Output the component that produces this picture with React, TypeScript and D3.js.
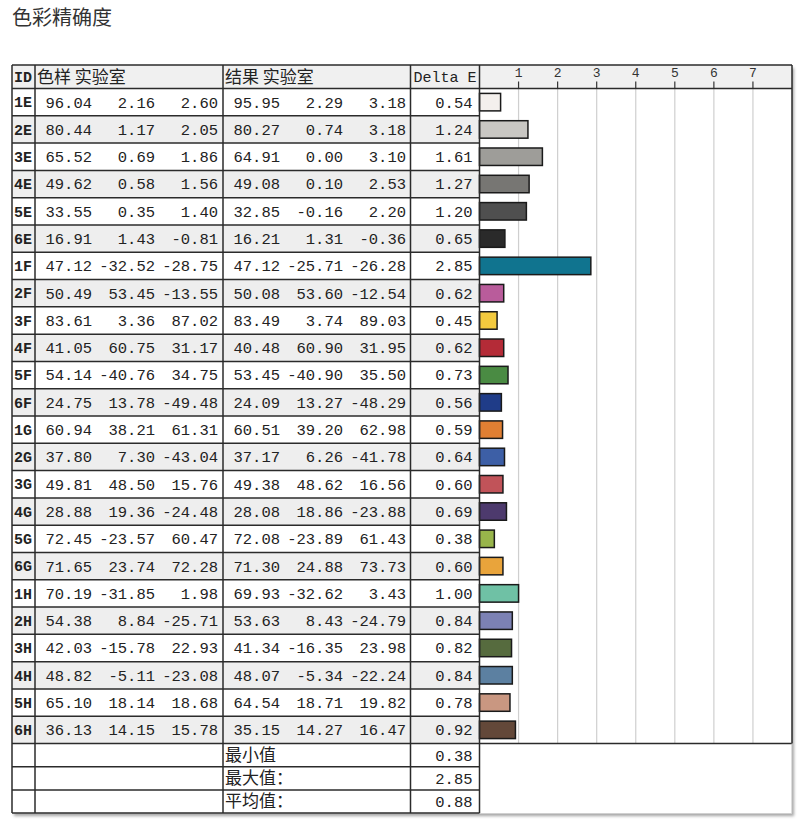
import React from 'react';
import * as d3 from 'd3';

const ids = ['1E', '2E', '3E', '4E', '5E', '6E', '1F', '2F', '3F', '4F', '5F', '6F', '1G', '2G', '3G', '4G', '5G', '6G', '1H', '2H', '3H', '4H', '5H', '6H'];
const sampleL = [96.04, 80.44, 65.52, 49.62, 33.55, 16.91, 47.12, 50.49, 83.61, 41.05, 54.14, 24.75, 60.94, 37.80, 49.81, 28.88, 72.45, 71.65, 70.19, 54.38, 42.03, 48.82, 65.10, 36.13];
const sampleA = [2.16, 1.17, 0.69, 0.58, 0.35, 1.43, -32.52, 53.45, 3.36, 60.75, -40.76, 13.78, 38.21, 7.30, 48.50, 19.36, -23.57, 23.74, -31.85, 8.84, -15.78, -5.11, 18.14, 14.15];
const sampleB = [2.60, 2.05, 1.86, 1.56, 1.40, -0.81, -28.75, -13.55, 87.02, 31.17, 34.75, -49.48, 61.31, -43.04, 15.76, -24.48, 60.47, 72.28, 1.98, -25.71, 22.93, -23.08, 18.68, 15.78];
const resultL = [95.95, 80.27, 64.91, 49.08, 32.85, 16.21, 47.12, 50.08, 83.49, 40.48, 53.45, 24.09, 60.51, 37.17, 49.38, 28.08, 72.08, 71.30, 69.93, 53.63, 41.34, 48.07, 64.54, 35.15];
const resultA = [2.29, 0.74, 0.00, 0.10, -0.16, 1.31, -25.71, 53.60, 3.74, 60.90, -40.90, 13.27, 39.20, 6.26, 48.62, 18.86, -23.89, 24.88, -32.62, 8.43, -16.35, -5.34, 18.71, 14.27];
const resultB = [3.18, 3.18, 3.10, 2.53, 2.20, -0.36, -26.28, -12.54, 89.03, 31.95, 35.50, -48.29, 62.98, -41.78, 16.56, -23.88, 61.43, 73.73, 3.43, -24.79, 23.98, -22.24, 19.82, 16.47];
const deltaE = [0.54, 1.24, 1.61, 1.27, 1.20, 0.65, 2.85, 0.62, 0.45, 0.62, 0.73, 0.56, 0.59, 0.64, 0.60, 0.69, 0.38, 0.60, 1.00, 0.84, 0.82, 0.84, 0.78, 0.92];
const barColors = ['#f4f0ed', '#c9c7c3', '#9e9d99', '#777673', '#4f4f4f', '#2a2a2a', '#10748f', '#b95c9b', '#f3ca3e', '#b42b37', '#4a8b43', '#1f3c88', '#e07f33', '#3d5fa6', '#c15359', '#4d3a6d', '#98b54b', '#e9a43b', '#6fc1a5', '#7c81b4', '#566b3e', '#5c80a1', '#c99781', '#634839'];
const axisTicks = [1, 2, 3, 4, 5, 6, 7];
const summaryLabels = ['最小值', '最大值：', '平均值：'];
const summaryValues = [0.38, 2.85, 0.88];

const title = '色彩精确度';
const headers = ['ID', '色样 实验室', '结果 实验室', 'Delta E'];

const monoFont = '"Liberation Mono", "DejaVu Sans Mono", monospace';
const cjkFont = '"Noto Sans CJK SC", "Noto Sans", sans-serif';

export default function App() {
    const width = 800;
    const height = 822;

    // column edges
    const left = 12;
    const colId = 35;
    const colSample = 223;
    const colResult = 410.5;
    const colDelta = 479.5;
    const right = 792;

    const headerTop = 65;
    const headerBottom = 88.5;
    const rowsBottom = 743.5;
    const summaryRow = 23.2;
    const bottom = rowsBottom + summaryRow * summaryLabels.length;

    const y = d3.scaleBand()
        .domain(ids)
        .range([headerBottom, rowsBottom]);
    const barY = d3.scaleBand()
        .domain(ids)
        .range([headerBottom, rowsBottom])
        .paddingInner(0.36)
        .paddingOuter(0.18);
    const x = d3.scaleLinear()
        .domain([0, 8])
        .range([colDelta, right]);
    const sy = d3.scaleBand()
        .domain(summaryLabels)
        .range([rowsBottom, bottom]);

    const valueOffsets = [57, 120, 183];
    const fmt = (v: number) => v.toFixed(2);

    const sampleCols = [sampleL, sampleA, sampleB];
    const resultCols = [resultL, resultA, resultB];
    const lineColor = '#2b2b2b';

    return (
        <svg width={width} height={height} viewBox={`0 0 ${width} ${height}`}
            style={{ position: 'absolute', left: 0, top: 0, display: 'block', background: '#fff' }}>
            <defs>
                <filter id="shadow" x="-5%" y="-5%" width="110%" height="110%">
                    <feDropShadow dx="2" dy="3" stdDeviation="1.8" floodColor="#000" floodOpacity="0.35" />
                </filter>
            </defs>

            <text x={left} y={25} fontFamily={cjkFont} fontSize={20} fill="#333">{title}</text>

            {/* background + shadow */}
            <rect x={left} y={headerTop} width={right - left} height={bottom - headerTop} fill="#fff" filter="url(#shadow)" />

            {/* header background */}
            <rect x={left} y={headerTop} width={right - left} height={headerBottom - headerTop} fill="#f0f0f0" />

            {/* alternate rows */}
            {ids.map((id, i) => i % 2 === 1 ? (
                <rect key={'bg' + id} x={left} y={y(id)} width={colDelta - left} height={y.bandwidth()} fill="#eeeeee" />
            ) : null)}

            {/* grid lines */}
            {axisTicks.map(t => (
                <g key={'t' + t}>
                    <line x1={x(t)} x2={x(t)} y1={headerBottom} y2={rowsBottom} stroke="#cfcfcf" strokeWidth={1.2} />
                    <line x1={x(t)} x2={x(t)} y1={headerBottom - 7} y2={headerBottom} stroke="#333" strokeWidth={1.2} />
                    <text x={x(t)} y={77} textAnchor="middle" fontFamily={monoFont} fontSize={13} fill="#333">{t}</text>
                </g>
            ))}

            {/* bars */}
            {ids.map((id, i) => (
                <rect key={'bar' + id} x={x(0)} y={barY(id)} width={x(deltaE[i]) - x(0)} height={barY.bandwidth()}
                    fill={barColors[i]} stroke="#1a1a1a" strokeWidth={1.5} />
            ))}

            {/* horizontal row lines */}
            {ids.map(id => (
                <line key={'hl' + id} x1={left} x2={colDelta} y1={y(id)} y2={y(id)} stroke={lineColor} strokeWidth={1.5} />
            ))}
            <line x1={left} x2={right} y1={headerTop} y2={headerTop} stroke={lineColor} strokeWidth={1.5} />
            <line x1={colDelta} x2={right} y1={headerBottom} y2={headerBottom} stroke={lineColor} strokeWidth={1.5} />
            <line x1={left} x2={right} y1={rowsBottom} y2={rowsBottom} stroke={lineColor} strokeWidth={1.5} />
            {summaryLabels.map(s => (
                <line key={'sl' + s} x1={left} x2={colDelta} y1={(sy(s) ?? 0) + sy.bandwidth()} y2={(sy(s) ?? 0) + sy.bandwidth()} stroke={lineColor} strokeWidth={1.5} />
            ))}

            {/* vertical column lines */}
            {[left, colId, colSample, colResult, colDelta].map(cx => (
                <line key={'vl' + cx} x1={cx} x2={cx} y1={headerTop} y2={bottom} stroke={lineColor} strokeWidth={1.5} />
            ))}
            <line x1={right} x2={right} y1={headerTop} y2={rowsBottom} stroke={lineColor} strokeWidth={1.5} />
            <line x1={right} x2={right} y1={rowsBottom} y2={bottom} stroke="#bbb" strokeWidth={1} />

            {/* header text */}
            <text x={left + 2} y={77} dy="0.35em" fontFamily={monoFont} fontWeight="bold" fontSize={15} fill="#222">{headers[0]}</text>
            <text x={colId + 2} y={77} dy="0.35em" fontFamily={cjkFont} fontSize={17} fill="#222">{headers[1]}</text>
            <text x={colSample + 2} y={77} dy="0.35em" fontFamily={cjkFont} fontSize={17} fill="#222">{headers[2]}</text>
            <text x={colResult + 3} y={77} dy="0.35em" fontFamily={monoFont} fontSize={15} fill="#222">{headers[3]}</text>

            {/* rows */}
            {ids.map((id, i) => {
                const cy = (y(id) ?? 0) + y.bandwidth() / 2;
                return (
                    <g key={'row' + id} fontFamily={monoFont} fontSize={15.5} fill="#222">
                        <text x={left + 2} y={cy} dy="0.35em" fontWeight="bold" fontSize={15}>{id}</text>
                        {sampleCols.map((col, j) => (
                            <text key={'s' + j} x={colId + valueOffsets[j]} y={cy} dy="0.35em" textAnchor="end">{fmt(col[i])}</text>
                        ))}
                        {resultCols.map((col, j) => (
                            <text key={'r' + j} x={colSample + valueOffsets[j]} y={cy} dy="0.35em" textAnchor="end">{fmt(col[i])}</text>
                        ))}
                        <text x={colDelta - 7} y={cy} dy="0.35em" textAnchor="end">{fmt(deltaE[i])}</text>
                    </g>
                );
            })}

            {/* summary */}
            {summaryLabels.map((s, i) => {
                const cy = (sy(s) ?? 0) + sy.bandwidth() / 2;
                return (
                    <g key={'sum' + s}>
                        <text x={colSample + 2} y={cy} dy="0.35em" fontFamily={cjkFont} fontSize={17} fill="#222">{s}</text>
                        <text x={colDelta - 7} y={cy} dy="0.35em" textAnchor="end" fontFamily={monoFont} fontSize={15.5} fill="#222">{fmt(summaryValues[i])}</text>
                    </g>
                );
            })}
        </svg>
    );
}
